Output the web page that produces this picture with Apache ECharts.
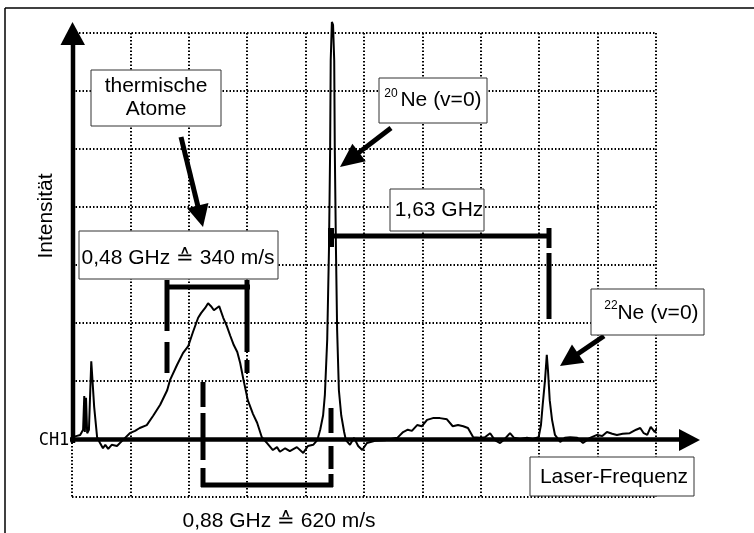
<!DOCTYPE html>
<html><head><meta charset="utf-8">
<script src="https://cdn.jsdelivr.net/npm/echarts@6/dist/echarts.min.js"></script>
<style>html,body{margin:0;padding:0;background:#fff;}#c{width:754px;height:533px;}</style>
</head><body><div id="c"></div>
<script>
// Laser frequency in screen divisions, intensity in divisions above baseline
const freqDiv = [0,0.07,0.14,0.19,0.21,0.22,0.24,0.26,0.29,0.33,0.38,0.43,0.48,0.53,0.57,0.62,0.68,0.77,0.87,0.99,
1.08,1.16,1.28,1.39,1.51,1.63,1.68,1.80,1.90,1.99,2.07,2.16,2.21,2.28,2.33,2.38,2.43,2.52,2.59,2.65,
2.71,2.77,2.83,2.88,2.93,3.01,3.10,3.17,3.25,3.34,3.44,3.51,3.56,3.65,3.73,3.85,3.96,4.04,4.13,4.20,
4.25,4.30,4.33,4.37,4.40,4.42,4.43,4.45,4.47,4.49,4.50,4.52,4.54,4.57,4.61,4.66,4.69,4.76,4.83,4.90,
4.97,5.05,5.19,5.36,5.57,5.67,5.75,5.82,5.91,5.99,6.08,6.18,6.30,6.42,6.52,6.61,6.70,6.78,6.87,6.99,
7.07,7.16,7.24,7.33,7.41,7.50,7.57,7.67,7.79,7.89,7.99,8.03,8.06,8.10,8.13,8.15,8.18,8.22,8.27,8.36,
8.44,8.53,8.65,8.75,8.87,8.99,9.08,9.16,9.25,9.33,9.43,9.55,9.66,9.73,9.79,9.85,9.91,9.98,10.03,10.12,
10.15,10.21];
const intensityDiv = [0.03,0.05,0.07,0.16,0.74,0.12,0.71,0.10,0.16,1.34,0.55,0.03,-0.07,-0.16,-0.10,-0.17,-0.10,-0.12,-0.02,0.10,
0.14,0.19,0.24,0.40,0.59,0.84,1.02,1.28,1.48,1.60,1.84,2.09,2.17,2.26,2.34,2.29,2.22,2.29,2.09,1.95,
1.78,1.62,1.50,1.31,1.05,0.67,0.43,0.28,0.03,-0.07,-0.19,-0.14,-0.22,-0.16,-0.21,-0.14,-0.24,-0.12,-0.10,-0.02,
0.16,0.41,0.76,1.71,3.26,4.98,6.53,7.19,7.14,6.53,4.98,3.26,1.88,0.84,0.41,0.12,-0.02,-0.10,0.02,-0.12,
-0.19,-0.07,-0.03,-0.02,0.02,0.12,0.16,0.14,0.24,0.22,0.33,0.36,0.36,0.34,0.22,0.24,0.22,0.19,0.03,0.02,
0.03,0.10,-0.02,-0.07,0.00,0.10,0.02,0.00,0.02,0.00,0.03,0.24,0.59,1.02,1.45,1.19,0.67,0.33,0.07,-0.05,
0.02,0.03,0.02,-0.07,0.02,0.07,0.05,0.12,0.09,0.07,0.09,0.10,0.16,0.19,0.10,0.07,0.21,0.12,0.21,0.19,
0.09,0.22];
const xTicks = [0,1,2,3,4,5,6,7,8,9,10];
const yTicks = [-1,0,1,2,3,4,5,6,7];

const FONT = '"Liberation Sans", Arial, sans-serif';
const chart = echarts.init(document.getElementById('c'));
const gridLine = {show:true, lineStyle:{color:'#000', width:2, type:[1.5,2]}};
chart.setOption({
  animation:false,
  backgroundColor:'#fff',
  grid:{left:72, top:33, width:584, height:464},
  xAxis:{type:'value', min:xTicks[0], max:xTicks[xTicks.length-1], interval:1,
    axisLine:{show:false}, axisTick:{show:false}, axisLabel:{show:false}, splitLine:gridLine},
  yAxis:{type:'value', min:yTicks[0], max:yTicks[yTicks.length-1], interval:1,
    axisLine:{show:false}, axisTick:{show:false}, axisLabel:{show:false}, splitLine:gridLine},
  series:[{type:'line', data:freqDiv.map((x,i)=>[x,intensityDiv[i]]), symbol:'none', clip:false,
    lineStyle:{color:'#000', width:2}, z:5}]
});

const g = [];
const L = (x1,y1,x2,y2,w,c) => g.push({type:'line', z:50, shape:{x1,y1,x2,y2}, style:{stroke:c||'#000', lineWidth:w}});
const T = (text,x,y,size,extra) => g.push(Object.assign({type:'text', z:60, style:Object.assign({text, x, y, font: size+'px '+FONT, fill:'#000',
  align:'center', textAlign:'center', verticalAlign:'middle', textVerticalAlign:'middle'}, extra||{})}));
const R = (x,y,w,h) => g.push({type:'rect', z:55, shape:{x,y,width:w,height:h}, style:{fill:'#fff', stroke:'#333', lineWidth:1}});
function arrow(x1,y1,x2,y2,w,hl,hw){
  const dx=x2-x1, dy=y2-y1, len=Math.hypot(dx,dy), ux=dx/len, uy=dy/len;
  const bx=x2-ux*hl, by=y2-uy*hl;
  L(x1,y1,bx+ux*2,by+uy*2,w);
  g.push({type:'polygon', z:50, shape:{points:[[x2,y2],[bx-uy*hw,by+ux*hw],[bx+uy*hw,by-ux*hw]]}, style:{fill:'#000'}});
}
function vsegs(x,segs,w){ segs.forEach(s=>L(x,s[0],x,s[1],w)); }

// frame
L(5,8,754,8,1.5); L(5,8,5,533,1.5);
// axes
L(73,443,73,42,4.5);
g.push({type:'polygon', z:50, shape:{points:[[72.5,22],[60.5,45],[85,45]]}, style:{fill:'#000'}});
L(70,439.5,682,439.5,4.5);
g.push({type:'polygon', z:50, shape:{points:[[700,440],[679,429],[679,451]]}, style:{fill:'#000'}});
T('CH1',54,441,17,{font:'17px "DejaVu Sans Mono", monospace'});
g.push({type:'text', z:60, x:46, y:216, rotation:Math.PI/2, style:{text:'Intensität', x:0, y:0, font:'21px '+FONT, fill:'#000',
  align:'center', textAlign:'center', verticalAlign:'middle', textVerticalAlign:'middle'}});

// brackets
L(165,287,250,287,5);
vsegs(167,[[280,331],[342,373]],5);
vsegs(247,[[280,352],[360,373]],5);
L(201,485,333,485,5);
vsegs(203,[[382,407],[413,460],[468,487]],5);
vsegs(331,[[408,433],[446,469],[474,487]],5);
L(329,236,551,236,5);
vsegs(331,[[228,247]],6);
vsegs(549,[[228,248],[253,319]],5);

// arrows
arrow(181,137,203,227,5,22,11);
arrow(391,128,340,167,5,24,11);
arrow(604,336,560,366,5,22,11);

// boxes
R(91,70,130,56); T('thermische',156,86,21); T('Atome',156,109,21);
R(79,231,199,48); T('0,48 GHz ≙ 340 m/s',178,258,21);
R(379,78,108,45); T('20',391,94,12); T('Ne (v=0)',441,100,21);
R(390,189,94,42); T('1,63 GHz',439,210,21);
R(591,289,113,46); T('22',611,306,12); T('Ne (v=0)',658,313,21);
R(530,457,164,39); T('Laser-Frequenz',614,477,21);
T('0,88 GHz ≙ 620 m/s',279,521,21);

chart.setOption({graphic:{elements:g}});
</script></body></html>
